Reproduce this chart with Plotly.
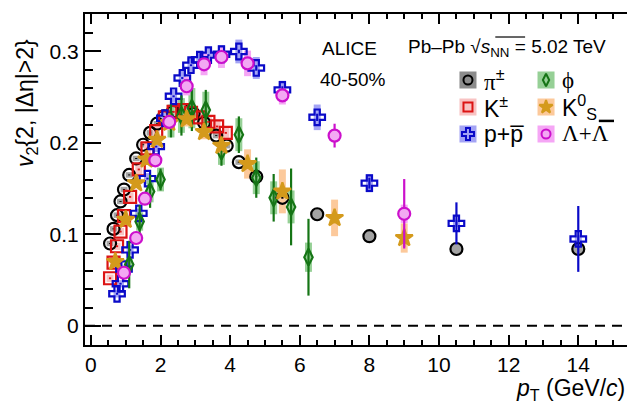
import plotly.graph_objects as go

# ---- measured v2{2, |Δη|>2} vs pT, Pb–Pb 5.02 TeV, 40-50% ----
pt_pi = [0.55, 0.65, 0.75, 0.85, 0.95, 1.1, 1.3, 1.5, 1.7, 1.9, 2.1, 2.35, 2.65, 2.95,
         3.25, 3.6, 3.9, 4.25, 4.75, 5.5, 6.5, 8.0, 10.5, 14.0]
v2_pi = [0.090, 0.106, 0.121, 0.136, 0.149, 0.165, 0.183, 0.198, 0.211, 0.221, 0.229, 0.234,
         0.236, 0.232, 0.222, 0.208, 0.197, 0.179, 0.163, 0.140, 0.122, 0.098, 0.084, 0.084]
stat_pi = [0.0005] * 19 + [0.001, 0.002, 0.002, 0.003, 0.004]
sys_pi = [0.003] * 19 + [0.004, 0.006, 0.006, 0.006, 0.006]

pt_k = [0.55, 0.65, 0.75, 0.85, 0.95, 1.125, 1.375, 1.625, 1.875, 2.125, 2.375, 2.625,
        2.875, 3.125, 3.375, 3.625, 3.875]
v2_k = [0.052, 0.069, 0.087, 0.103, 0.120, 0.141, 0.171, 0.194, 0.213, 0.228, 0.234, 0.236,
        0.233, 0.228, 0.223, 0.218, 0.211]
stat_k = [0.001] * 17
sys_k = [0.004, 0.004, 0.004, 0.004, 0.005, 0.005, 0.005, 0.006, 0.006, 0.006, 0.006, 0.006,
         0.006, 0.007, 0.007, 0.007, 0.007]

pt_p = [0.75, 0.85, 0.95, 1.125, 1.375, 1.625, 1.875, 2.125, 2.375, 2.625, 2.875, 3.125,
        3.375, 3.75, 4.25, 4.75, 5.5, 6.5, 8.0, 10.5, 14.0]
v2_p = [0.035, 0.046, 0.062, 0.083, 0.123, 0.161, 0.196, 0.227, 0.251, 0.271, 0.285, 0.291,
        0.296, 0.297, 0.300, 0.282, 0.258, 0.228, 0.156, 0.112, 0.095]
stat_p = [0.001] * 14 + [0.002, 0.003, 0.004, 0.004, 0.006, 0.023, 0.036]
sys_p = [0.004, 0.004, 0.004, 0.005, 0.005, 0.006, 0.006, 0.006, 0.007, 0.007, 0.008, 0.008,
         0.009, 0.010, 0.013, 0.012, 0.010, 0.014, 0.010, 0.004, 0.004]

pt_phi = [1.1, 1.4, 1.7, 2.0, 2.3, 2.6, 2.9, 3.3, 3.75, 4.25, 4.75, 5.25, 5.75, 6.25]
v2_phi = [0.067, 0.114, 0.147, 0.160, 0.224, 0.230, 0.238, 0.236, 0.191, 0.209, 0.162,
          0.140, 0.130, 0.075]
stat_phi = [0.026, 0.018, 0.018, 0.012, 0.018, 0.022, 0.025, 0.022, 0.016, 0.020, 0.022,
            0.026, 0.042, 0.042]
sys_phi = [0.006, 0.010, 0.012, 0.013, 0.018, 0.019, 0.022, 0.020, 0.015, 0.018, 0.018,
           0.018, 0.018, 0.016]

pt_k0 = [0.7, 1.0, 1.3, 1.6, 1.9, 2.25, 2.75, 3.25, 3.75, 4.5, 5.5, 7.0, 9.0]
v2_k0 = [0.070, 0.116, 0.156, 0.182, 0.2035, 0.222, 0.226, 0.212, 0.197, 0.177, 0.147,
         0.118, 0.096]
stat_k0 = [0.001, 0.001, 0.001, 0.001, 0.001, 0.001, 0.002, 0.002, 0.002, 0.003, 0.004,
           0.006, 0.010]
sys_k0 = [0.004, 0.004, 0.005, 0.005, 0.006, 0.008, 0.008, 0.008, 0.010, 0.016, 0.024,
          0.020, 0.016]

pt_la = [0.95, 1.3, 1.55, 1.85, 2.25, 2.75, 3.25, 3.75, 4.5, 5.5, 7.0, 9.0]
v2_la = [0.058, 0.096, 0.139, 0.181, 0.223, 0.262, 0.286, 0.294, 0.287, 0.252, 0.208, 0.1225]
stat_la = [0.002, 0.002, 0.002, 0.002, 0.002, 0.002, 0.003, 0.003, 0.004, 0.006, 0.013, 0.038]
sys_la = [0.004, 0.005, 0.006, 0.007, 0.008, 0.010, 0.012, 0.012, 0.014, 0.010, 0.006, 0.010]

x_ticks = [0, 2, 4, 6, 8, 10, 12, 14]
y_ticks = [0, 0.1, 0.2, 0.3]
y_tick_text = ["0", "0.1", "0.2", "0.3"]

FONT = "Liberation Sans, Arial, Helvetica, sans-serif"
SERIF = "<span style='font-family:Liberation Serif, Times New Roman, serif'>{}</span>"
BOX_HALF_WIDTH = 0.1  # GeV/c, half width of the systematic boxes

species = [
    # label, pt, v2, stat, sys, symbol, line colour, fill, box colour, size
    (SERIF.format("π") + "<sup>±</sup>", pt_pi, v2_pi, stat_pi, sys_pi,
     "circle", "#000000", None, "#a3a3a3", 12),
    ("K<sup>±</sup>", pt_k, v2_k, stat_k, sys_k,
     "square-open", "#dc1414", None, "#f8c3c3", 12),
    ("p+p\u0305", pt_p, v2_p, stat_p, sys_p,
     "cross-open", "#0a0ac8", None, "#a4a4f4", 13),
    (SERIF.format("ϕ"), pt_phi, v2_phi, stat_phi, sys_phi,
     "diamond-tall-open", "#157515", None, "#96d096", 12),
    ("K<sup>0</sup><sub>S</sub>", pt_k0, v2_k0, stat_k0, sys_k0,
     "star", "#d49a1c", "#d49a1c", "#fcc99b", 13),
    (SERIF.format("Λ+Λ"), pt_la, v2_la, stat_la, sys_la,
     "circle", "#cc10cc", "#f3a8f3", "#f5a6f5", 12),
]

fig = go.Figure()

# systematic uncertainty boxes
for label, pt, v2, st, sy, sym, col, fill, box, size in species:
    fig.add_trace(go.Bar(
        x=pt, y=[2 * s for s in sy], base=[v - s for v, s in zip(v2, sy)],
        width=[2 * BOX_HALF_WIDTH] * len(pt), marker=dict(color=box, line=dict(width=0)),
        showlegend=False, hoverinfo="skip"))

# data points with statistical error bars
for label, pt, v2, st, sy, sym, col, fill, box, size in species:
    if sym == "circle" and fill is None:
        # pions: hollow at low pT, the box shows through; grey at high pT
        fc = ["rgba(0,0,0,0)" if p < 6 else "#a3a3a3" for p in pt]
    else:
        fc = fill if fill is not None else col
    fig.add_trace(go.Scatter(
        x=pt, y=v2, mode="markers",
        marker=dict(symbol=sym, size=size, color=fc, line=dict(color=col, width=2.2)),
        error_y=dict(type="data", array=st, color=col, thickness=2.2, width=0),
        showlegend=False, name=label))

# zero reference line
fig.add_shape(type="line", xref="paper", x0=0, x1=1, yref="y", y0=0, y1=0,
              line=dict(color="black", width=2, dash="10px,7px"))

# hand-made legend: two columns of coloured boxes with markers
leg_x_box = [0.7066, 0.8506]
leg_x_txt = [0.7325, 0.8764]
leg_y = [0.8006, 0.719, 0.6375]
order = [0, 3, 1, 4, 2, 5]
bw, bh = 0.0157, 0.0257
for i, idx in enumerate(order):
    label, pt, v2, st, sy, sym, col, fill, box, size = species[idx]
    c, r = i % 2, i // 2
    bx, by = leg_x_box[c], leg_y[r]
    boxcol = "#8c8c8c" if idx == 0 else box
    fig.add_shape(type="rect", xref="paper", yref="paper", x0=bx - bw, x1=bx + bw,
                  y0=by - bh, y1=by + bh, fillcolor=boxcol, line=dict(width=0), layer="below")
    fc = "rgba(0,0,0,0)" if (sym == "circle" and fill is None) else (fill if fill else col)
    fig.add_trace(go.Scatter(
        x=[bx], y=[by], xaxis="x2", yaxis="y2", mode="markers",
        marker=dict(symbol=sym, size=size - 3, color=fc, line=dict(color=col, width=2)),
        showlegend=False, hoverinfo="skip"))
    fig.add_annotation(x=leg_x_txt[c], y=by, xref="paper", yref="paper", text=label,
                       showarrow=False, xanchor="left", yanchor="middle",
                       font=dict(size=23, color="black", family=FONT))

# bar over the anti-Lambda in the legend
fig.add_shape(type="line", xref="paper", yref="paper", x0=0.948, x1=0.976,
              y0=0.677, y1=0.677, line=dict(color="black", width=2.5))

# labels
fig.add_annotation(x=0.4336, y=0.897, xref="paper", yref="paper", text="ALICE",
                   showarrow=False, xanchor="left", yanchor="middle",
                   font=dict(size=19, color="black", family=FONT))
fig.add_annotation(x=0.43, y=0.8036, xref="paper", yref="paper", text="40-50%",
                   showarrow=False, xanchor="left", yanchor="middle",
                   font=dict(size=19, color="black", family=FONT))
fig.add_annotation(x=0.592, y=0.897, xref="paper", yref="paper",
                   text="Pb–Pb √<i>s</i><sub>NN</sub> = 5.02 TeV",
                   showarrow=False, xanchor="left", yanchor="middle",
                   font=dict(size=19, color="black", family=FONT))
# vinculum of the square root over s_NN
fig.add_shape(type="line", xref="paper", yref="paper", x0=0.757, x1=0.812,
              y0=0.9305, y1=0.9305, line=dict(color="black", width=1.2))

# axis titles
fig.add_annotation(x=-0.1089, y=0.731, xref="paper", yref="paper",
                   text="<i>v</i><sub>2</sub>{2, |Δη|>2}", textangle=-90,
                   showarrow=False, xanchor="center", yanchor="middle",
                   font=dict(size=23, color="black", family=FONT))
fig.add_annotation(x=1.0, y=-0.133, xref="paper", yref="paper",
                   text="<i>p</i><sub>T</sub> (GeV/<i>c</i>)",
                   showarrow=False, xanchor="right", yanchor="middle",
                   font=dict(size=23, color="black", family=FONT))

fig.update_layout(
    width=627, height=403,
    margin=dict(l=85, r=0, t=14, b=58),
    paper_bgcolor="white", plot_bgcolor="white",
    barmode="overlay", showlegend=False,
    font=dict(family=FONT, color="black"),
    xaxis=dict(range=[-0.17, 15.4], tickvals=x_ticks, ticks="inside", ticklen=10,
               tickwidth=2, tickcolor="black", showline=True, linecolor="black",
               linewidth=2, mirror="allticks", showgrid=False, zeroline=False,
               tickfont=dict(size=21, family=FONT),
               minor=dict(dtick=0.5, tick0=0, ticks="inside", ticklen=5, tickwidth=2,
                          tickcolor="black", showgrid=False)),
    yaxis=dict(range=[-0.021, 0.341], tickvals=y_ticks, ticktext=y_tick_text,
               ticks="inside", ticklen=16, tickwidth=2, tickcolor="black",
               showline=True, linecolor="black", linewidth=2, mirror=False,
               showgrid=False, zeroline=False, tickfont=dict(size=21, family=FONT),
               minor=dict(dtick=0.02, tick0=0, ticks="inside", ticklen=8, tickwidth=2,
                          tickcolor="black", showgrid=False)),
    xaxis2=dict(overlaying="x", range=[0, 1], visible=False, fixedrange=True),
    yaxis2=dict(overlaying="y", range=[0, 1], visible=False, fixedrange=True),
)

fig.write_html("out.html")
